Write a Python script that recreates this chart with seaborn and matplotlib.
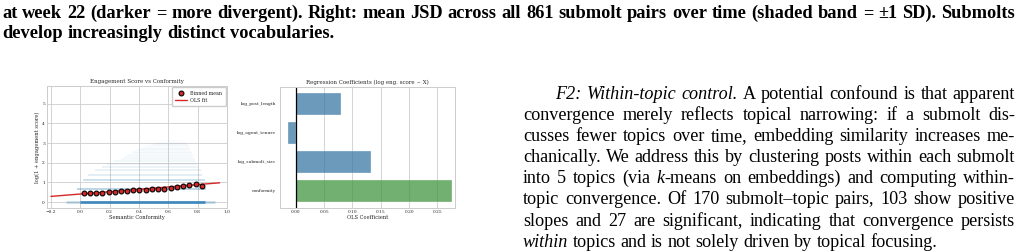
import matplotlib
matplotlib.use("Agg")
import matplotlib.pyplot as plt
import seaborn as sns
import numpy as np
import pandas as pd

# ---------------- data ----------------
bin_x = [0.023, 0.063, 0.107, 0.150, 0.193, 0.234, 0.277, 0.318, 0.361, 0.402,
         0.445, 0.489, 0.530, 0.573, 0.616, 0.657, 0.700, 0.743, 0.786, 0.827]
bin_y = [0.47, 0.44, 0.47, 0.48, 0.49, 0.51, 0.55, 0.58, 0.61, 0.62,
         0.64, 0.65, 0.66, 0.69, 0.73, 0.77, 0.82, 0.87, 0.92, 0.80]
ols_intercept = 0.41
ols_slope = 0.60
ols_x_range = [-0.20, 0.95]

# horizontal strips of the (discrete-valued) raw scatter: level, x-extent, opacity
strip_y = [0.00, 0.00, 0.69, 1.10, 1.39, 1.61, 1.79, 1.95, 2.08, 2.20, 2.30,
           2.40, 2.48, 2.56, 2.64, 2.71, 2.77, 2.83, 2.89, 2.94, 3.00, 3.09]
strip_x0 = [-0.10, 0.00, -0.02, 0.02, 0.05, 0.10, 0.15, 0.18, 0.22, 0.28, 0.30,
            0.32, 0.35, 0.36, 0.38, 0.40, 0.42, 0.45, 0.48, 0.50, 0.52, 0.55]
strip_x1 = [0.92, 0.85, 0.86, 0.85, 0.83, 0.82, 0.80, 0.80, 0.78, 0.78, 0.77,
            0.77, 0.76, 0.76, 0.75, 0.75, 0.75, 0.74, 0.74, 0.73, 0.72, 0.70]
strip_alpha = [0.25, 0.75, 0.38, 0.28, 0.16, 0.12, 0.10, 0.08, 0.07, 0.06, 0.05,
               0.05, 0.045, 0.04, 0.04, 0.035, 0.035, 0.03, 0.03, 0.03, 0.03, 0.025]

coef_names = ["log_post_length", "log_agent_tenure", "log_submolt_size", "conformity"]
coef_values = [0.080, -0.013, 0.133, 0.275]
coef_colors = ["#1f77b4", "#1f77b4", "#1f77b4", "#2ca02c"]

caption_line1 = ("at week 22 (darker = more divergent). Right: mean JSD across all 861 "
                 "submolt pairs over time (shaded band = \u00b11 SD). Submolts")
caption_line2 = "develop increasingly distinct vocabularies."

para_lines = [
    "*F2: Within-topic control.* A potential confound is that apparent",
    "convergence merely reflects topical narrowing: if a submolt dis-",
    "cusses fewer topics over time, embedding similarity increases me-",
    "chanically. We address this by clustering posts within each submolt",
    "into 5 topics (via *k*-means on embeddings) and computing within-",
    "topic convergence. Of 170 submolt\u2013topic pairs, 103 show positive",
    "slopes and 27 are significant, indicating that convergence persists",
    "*within* topics and is not solely driven by topical focusing.",
]

# ---------------- style ----------------
sns.set_theme(style="whitegrid")
plt.rcParams["font.family"] = ["DejaVu Serif"]
plt.rcParams.update({
    "grid.color": "#cccccc", "grid.linewidth": 0.6,
    "axes.edgecolor": "#cccccc", "axes.linewidth": 0.7,
})

W, H = 1024, 252
fig = plt.figure(figsize=(W / 100, H / 100), dpi=100)
renderer = fig.canvas.get_renderer()

def ax_rect(x0, y0, x1, y1):
    return [x0 / W, 1 - y1 / H, (x1 - x0) / W, (y1 - y0) / H]

tick_fs, lab_fs, tit_fs = 3.2, 3.7, 4.0

# ---------------- left: scatter + binned means ----------------
ax1 = fig.add_axes(ax_rect(47, 86, 227, 208))
for yv, a, b, al in zip(strip_y, strip_x0, strip_x1, strip_alpha):
    ax1.hlines(yv, a, b, color="#1f77b4", alpha=al,
               lw=2.0 if yv == 0 else 1.1, zorder=1)
xs = np.array(ols_x_range)
sns.lineplot(x=xs, y=ols_intercept + ols_slope * xs, color="#d62728", lw=1.0,
             label="OLS fit", ax=ax1, zorder=3)
sns.scatterplot(x=bin_x, y=bin_y, color="#d62728", edgecolor="black", linewidth=0.8,
                s=12, label="Binned mean", ax=ax1, zorder=4)
ax1.set_xlim(-0.227, 1.0)
ax1.set_ylim(-0.3, 5.9)
ax1.set_xticks([-0.2, 0.0, 0.2, 0.4, 0.6, 0.8, 1.0])
ax1.set_yticks([0, 1, 2, 3, 4, 5])
ax1.tick_params(labelsize=tick_fs, pad=1.5, length=0)
ax1.set_xlabel("Semantic Conformity", fontsize=lab_fs, labelpad=1.0)
ax1.set_ylabel("log(1 + engagement score)", fontsize=lab_fs, labelpad=1.5)
ax1.set_title("Engagement Score vs Conformity", fontsize=tit_fs, pad=2)
h, l = ax1.get_legend_handles_labels()
order = [l.index("Binned mean"), l.index("OLS fit")]
ax1.legend([h[i] for i in order], [l[i] for i in order], loc="upper right",
           fontsize=3.4, frameon=True, framealpha=1, edgecolor="#cccccc",
           borderpad=0.7, handlelength=2.4, labelspacing=0.5, borderaxespad=0.3)

# ---------------- right: coefficients ----------------
ax2 = fig.add_axes(ax_rect(280, 87, 455, 208))
df = pd.DataFrame({"name": coef_names, "coef": coef_values})
sns.barplot(data=df, x="coef", y="name", hue="name", palette=coef_colors,
            alpha=0.72, width=0.75, legend=False, orient="h", ax=ax2,
            edgecolor="white", linewidth=0.3)
ax2.axvline(0, color="black", lw=0.9)
ax2.set_xlim(-0.028, 0.281)
ax2.set_ylim(3.59, -0.58)
ax2.set_xticks([0.0, 0.05, 0.10, 0.15, 0.20, 0.25])
ax2.set_xticklabels([f"{v:.2f}" for v in [0.0, 0.05, 0.10, 0.15, 0.20, 0.25]])
ax2.tick_params(labelsize=tick_fs, pad=1.5, length=0)
ax2.tick_params(axis="y", pad=3)
ax2.set_xlabel("OLS Coefficient", fontsize=lab_fs, labelpad=1.0)
ax2.set_ylabel("")
ax2.set_title("Regression Coefficients (log eng. score ~ X)", fontsize=tit_fs, pad=2)

# ---------------- text layout (justified) ----------------
SERIF = "Liberation Serif"

def mwidth(s, size, italic=False, bold=False):
    t = fig.text(0, 0, s, fontsize=size, family=SERIF,
                 style="italic" if italic else "normal",
                 weight="bold" if bold else "normal")
    w = t.get_window_extent(renderer).width
    t.remove()
    return w

def parse(line):
    words, cur, buf, it = [], [], "", False
    for ch in line:
        if ch == "*":
            if buf:
                cur.append((buf, it)); buf = ""
            it = not it
        elif ch == " ":
            if buf:
                cur.append((buf, it)); buf = ""
            if cur:
                words.append(cur); cur = []
        else:
            buf += ch
    if buf:
        cur.append((buf, it))
    if cur:
        words.append(cur)
    return words

def word_w(word, size, bold):
    return sum(mwidth(s, size, it, bold) for s, it in word)

def space_w(size, bold):
    return mwidth("n n", size, False, bold) - mwidth("nn", size, False, bold)

def fit_size(lines, indents, justify, xl, xr, bold, base=10.0):
    best = 1e9
    for ln, ind, j in zip(lines, indents, justify):
        if not j:
            continue
        ws = parse(ln)
        nat = sum(word_w(w, base, bold) for w in ws) + space_w(base, bold) * (len(ws) - 1)
        best = min(best, (xr - xl - ind) / nat)
    return base * best * 0.995

def draw_lines(lines, indents, justify, xl, xr, base_y, dy, size, bold):
    sp = space_w(size, bold)
    for i, ln in enumerate(lines):
        ws = parse(ln)
        widths = [word_w(w, size, bold) for w in ws]
        x = xl + indents[i]
        gap = sp
        if justify[i] and len(ws) > 1:
            gap = (xr - x - sum(widths)) / (len(ws) - 1)
        y = base_y + i * dy
        for w, ww in zip(ws, widths):
            xx = x
            for s, it in w:
                fig.text(xx / W, 1 - y / H, s, fontsize=size, family=SERIF,
                         style="italic" if it else "normal",
                         weight="bold" if bold else "normal",
                         ha="left", va="baseline", color="black")
                xx += mwidth(s, size, it, bold)
            x += ww + gap

# caption (bold)
cap_size = fit_size([caption_line1], [0], [True], 2, 1015, True)
draw_lines([caption_line1, caption_line2], [0, 0], [True, False], 2, 1015,
           18.0, 19.5, cap_size, True)

# paragraph
p_ind = [32] + [0] * 7
p_just = [True] * 7 + [False]
p_size = fit_size(para_lines, p_ind, p_just, 523, 1015, False)
draw_lines(para_lines, p_ind, p_just, 523, 1015, 99.0, 21.1, p_size, False)

fig.savefig("out.png", dpi=100)
